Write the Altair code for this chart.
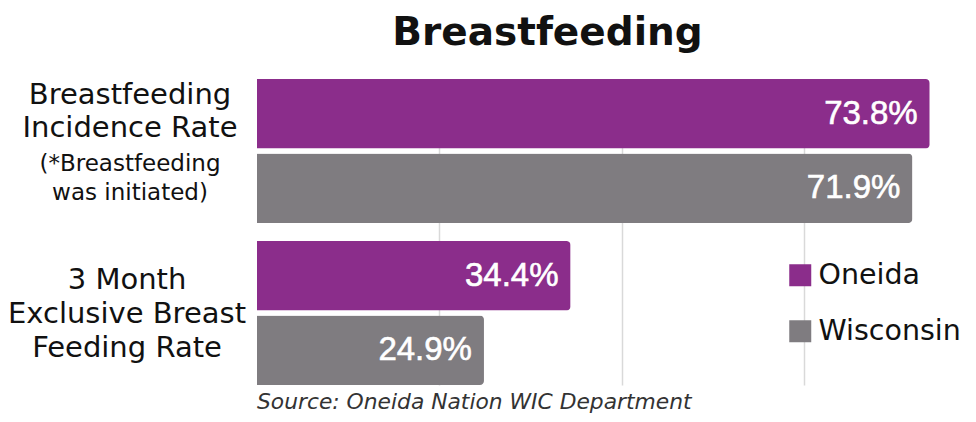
import altair as alt
import pandas as pd

# ---- data ----
categories = ["Breastfeeding Incidence Rate", "3 Month Exclusive Breast Feeding Rate"]
category_lines = [["Breastfeeding", "Incidence Rate"], ["3 Month", "Exclusive Breast", "Feeding Rate"]]
note_lines = ["(*Breastfeeding", "was initiated)"]
series = ["Oneida", "Wisconsin"]
oneida = [73.8, 34.4]
wisconsin = [71.9, 24.9]
colors = ["#8B2D8B", "#7F7C80"]
grid_values = [20, 40, 60]
title_text = "Breastfeeding"
source_text = "Source: Oneida Nation WIC Department"

rows = []
for i, c in enumerate(categories):
    rows.append({"category": c, "series": series[0], "value": oneida[i]})
    rows.append({"category": c, "series": series[1], "value": wisconsin[i]})
df = pd.DataFrame(rows)

cat_df = pd.DataFrame({"category": categories,
                       "label": ["\n".join(l) for l in category_lines]})
note_df = pd.DataFrame({"category": [categories[0]], "label": ["\n".join(note_lines)]})
src_df = pd.DataFrame({"t": [source_text]})

LABEL_FONT = "DejaVu Sans"

x_enc = alt.X("value:Q",
              scale=alt.Scale(domain=[0, 78], nice=False, zero=True),
              axis=alt.Axis(values=grid_values, grid=True, labels=False, ticks=False,
                            domain=False, title=None, gridColor="#d9d9d9", gridWidth=1.5))
y_enc = alt.Y("category:N", sort=categories, axis=None,
              scale=alt.Scale(paddingInner=0.111, paddingOuter=0))
yoff_enc = alt.YOffset("series:N", sort=series,
                       scale=alt.Scale(paddingInner=0.067, paddingOuter=0))

base = alt.Chart(df)

bars = base.mark_bar(cornerRadiusEnd=4).encode(
    x=x_enc, y=y_enc, yOffset=yoff_enc,
    color=alt.Color("series:N", sort=series,
                    scale=alt.Scale(domain=series, range=colors),
                    legend=alt.Legend(title=None, orient="none", legendX=529, legendY=182,
                                      symbolType="square", symbolSize=484,
                                      symbolStrokeWidth=0, symbolOpacity=1,
                                      labelFontSize=28.5, labelFont=LABEL_FONT,
                                      labelColor="#111111", labelOffset=4,
                                      rowPadding=27)),
)

values = base.transform_calculate(
    label="format(datum.value, '.1f') + '%'"
).mark_text(align="right", baseline="middle", dx=-12,
            font="'Liberation Sans Narrow', 'Arial Narrow', 'Liberation Sans', Arial",
            fontSize=33, color="white", stroke="white", strokeWidth=0.6).encode(
    x="value:Q", y=y_enc, yOffset=yoff_enc, text="label:N")

cat1 = alt.Chart(cat_df).transform_filter(
    alt.datum.category == categories[0]
).mark_text(align="center", baseline="middle", lineBreak="\n", lineHeight=33,
            fontSize=29, font=LABEL_FONT, color="#111111", dy=-56).encode(
    x=alt.value(-127), y=y_enc, text="label:N")

cat2 = alt.Chart(cat_df).transform_filter(
    alt.datum.category == categories[1]
).mark_text(align="center", baseline="middle", lineBreak="\n", lineHeight=34,
            fontSize=29, font=LABEL_FONT, color="#111111", dy=-33).encode(
    x=alt.value(-130), y=y_enc, text="label:N")

note = alt.Chart(note_df).mark_text(
    align="center", baseline="middle", lineBreak="\n", lineHeight=29,
    fontSize=23, font=LABEL_FONT, color="#111111", dy=13).encode(
    x=alt.value(-127), y=y_enc, text="label:N")

source = alt.Chart(src_df).mark_text(
    align="left", baseline="alphabetic", fontStyle="italic", fontSize=21.8,
    font=LABEL_FONT, color="#333333").encode(
    x=alt.value(0), y=alt.value(330), text="t:N")

chart = alt.layer(bars, values, cat1, cat2, note, source).properties(
    width=711, height=306,
    padding={"left": 249, "top": 71, "right": 0, "bottom": 29},
    autosize=alt.AutoSizeParams(type="none"),
    title=alt.Title(title_text, font=LABEL_FONT, fontSize=39, fontWeight="bold",
                    color="#111111", anchor="middle", dx=-65, dy=41, offset=36,
                    baseline="alphabetic"),
).configure_view(stroke=None)

chart.save("out.html", embed_options={"renderer": "svg", "actions": False})
